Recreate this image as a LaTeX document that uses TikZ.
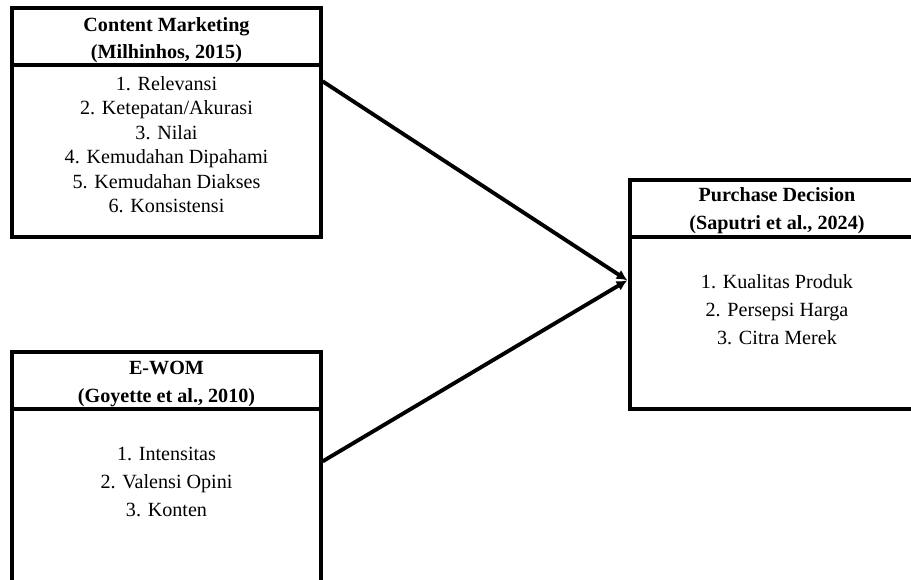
\documentclass[tikz,border=0pt]{standalone}
\usepackage{fontspec}
\setmainfont{Liberation Serif}
\usetikzlibrary{calc,arrows.meta}
\begin{document}
\begin{tikzpicture}[x=0.75pt,y=-0.75pt,
  frame/.style={draw, line width=2.5pt, rectangle, inner sep=0pt},
  leftw/.style={minimum width=231.75pt},
  rightw/.style={minimum width=220.5pt},
  hdrbox/.style={frame, minimum height=42.75pt},
  bodybox/.style={frame, minimum height=129pt},
  hdrtext/.style={align=center, inner sep=0pt, font=\fontsize{15.1}{20.5}\selectfont\bfseries},
  itemtext/.style={align=center, inner sep=0pt, font=\fontsize{15.1}{21}\selectfont},
  conn/.style={line width=2.9pt, -{Latex[length=8pt,width=8pt]}}]
\useasboundingbox (0,0) rectangle (911,579);
\clip (0,0) rectangle (911,579);
% Content Marketing
\node[hdrbox, leftw] (cmh) at (166.5,36.5) {};
\node[bodybox, leftw] (cmb) at (166.5,151) {};
\node[hdrtext] (cmt) at (166.5,40) {Content Marketing\\(Milhinhos, 2015)};
\node[itemtext, font=\fontsize{15.1}{18.4}\selectfont] (cmi) at (166.5,144.5)
  {1. Relevansi\\2. Ketepatan/Akurasi\\3. Nilai\\4. Kemudahan Dipahami\\5. Kemudahan Diakses\\6. Konsistensi};
% E-WOM
\node[hdrbox, leftw] (ewh) at (166.5,380.5) {};
\node[frame, leftw, minimum height=173.25pt] (ewb) at (166.5,524.5) {};
\node[hdrtext, font=\fontsize{15.1}{21}\selectfont\bfseries] (ewt) at (166.5,384) {E-WOM\\(Goyette et al., 2010)};
\node[itemtext] (ewi) at (166.5,482) {1. Intensitas\\2. Valensi Opini\\3. Konten};
% Purchase Decision
\node[hdrbox, rightw] (pdh) at (777,208.5) {};
\node[bodybox, rightw] (pdb) at (777,323) {};
\node[hdrtext, font=\fontsize{15.1}{21}\selectfont\bfseries] (pdt) at (777,211) {Purchase Decision\\(Saputri et al., 2024)};
\node[itemtext] (pdi) at (777,310) {1. Kualitas Produk\\2. Persepsi Harga\\3. Citra Merek};
% connectors
\draw[conn] ($(cmb.north east)+(0,18)$) -- ($(pdb.north west)+(-1,45)$);
\draw[conn] ($(ewb.north east)+(0,54)$) -- ($(pdb.north west)+(-1,45)$);
\end{tikzpicture}
\end{document}
